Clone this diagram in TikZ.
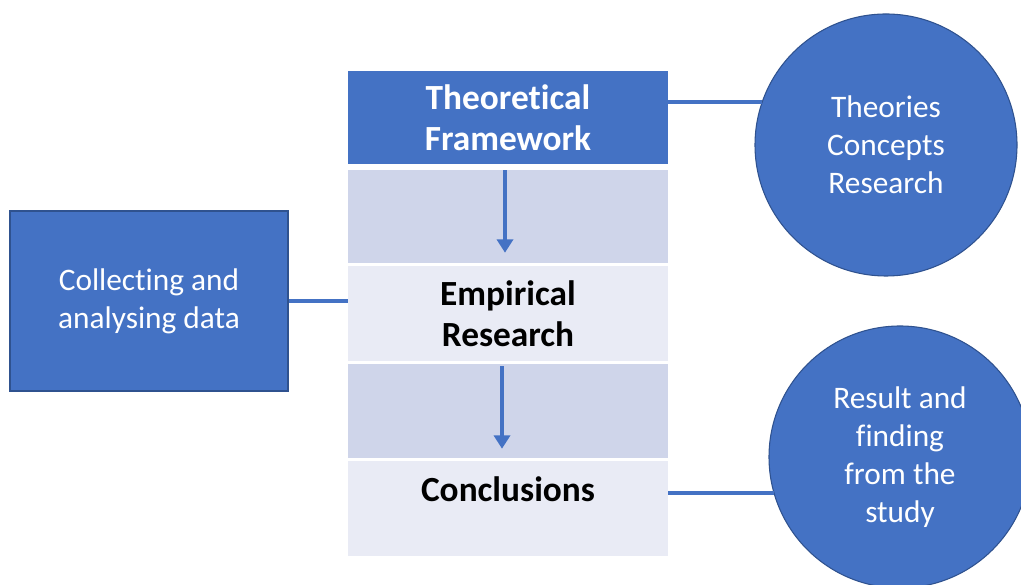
\documentclass[tikz,border=0pt]{standalone}
\usepackage{fontspec}
\setmainfont{Carlito}[Ligatures=NoCommon]
\usetikzlibrary{arrows.meta}

\definecolor{mainblue}{HTML}{4472C4}
\definecolor{edgeblue}{HTML}{2F528F}
\definecolor{midblue}{HTML}{CFD5EA}
\definecolor{paleblue}{HTML}{E9EBF5}

\tikzset{
  rowbox/.style={rectangle, minimum width=240pt, inner sep=0pt},
  sidebox/.style={rectangle, fill=mainblue, draw=edgeblue, line width=0.8pt,
    minimum width=208.5pt, minimum height=135pt, text=white, align=center,
    font=\fontsize{23.5}{28.5}\selectfont},
  bubble/.style={circle, fill=mainblue, draw=edgeblue, line width=0.8pt,
    minimum size=196.5pt, inner sep=0pt, text=white, align=center,
    font=\fontsize{23.5}{28.5}\selectfont},
  boldtext/.style={align=center, font=\bfseries\fontsize{26.5}{30.75}\selectfont},
  link/.style={draw=mainblue, line width=3pt},
  flow/.style={draw=mainblue, line width=2.8pt, -{Triangle[width=12pt,length=10pt]}}
}

\begin{document}
\begin{tikzpicture}[x=0.75pt, y=0.75pt]
        \useasboundingbox (0,0) rectangle (1021,585);
        \clip (0,0) rectangle (1021,585);

        % central column
        \node[rowbox, fill=mainblue, minimum height=69.75pt, boldtext, text=white] (theory) at (508,467.5) {Theoretical\\Framework};
        \node[rowbox, fill=midblue, minimum height=69.75pt] (gap1) at (508,368.5) {};
        \node[rowbox, fill=paleblue, minimum height=71.25pt, boldtext] (empirical) at (508,271.5) {Empirical\\Research};
        \node[rowbox, fill=midblue, minimum height=70.5pt] (gap2) at (508,174) {};
        \node[rowbox, fill=paleblue, minimum height=71.25pt] (last) at (508,76.5) {};
        \node[boldtext] (concl) at (508,96) {Conclusions};

        % side shapes
        \node[sidebox] (collect) at (149,284) {Collecting and\\analysing data};
        \node[bubble] (concepts) at (886,440) {Theories\\Concepts\\Research};
        \node[bubble] (result) at (900,128) {Result and\\finding\\from the\\study};

        \draw[flow, shorten <=4.5pt, shorten >=9.75pt] ([xshift=-2.25pt]theory.south) -- ([xshift=-2.25pt]empirical.north);
        \draw[flow, shorten <=3.75pt, shorten >=9pt] ([xshift=-4.5pt]empirical.south) -- ([xshift=-4.5pt]last.north);

        \draw[link] (theory.east |- concepts.161.8) -- (concepts.161.8);
        \draw[link] (collect.east) -- (collect.east -| empirical.west);
        \draw[link] (last.east |- result.196) -- (result.196);
      \end{tikzpicture}
\end{document}
